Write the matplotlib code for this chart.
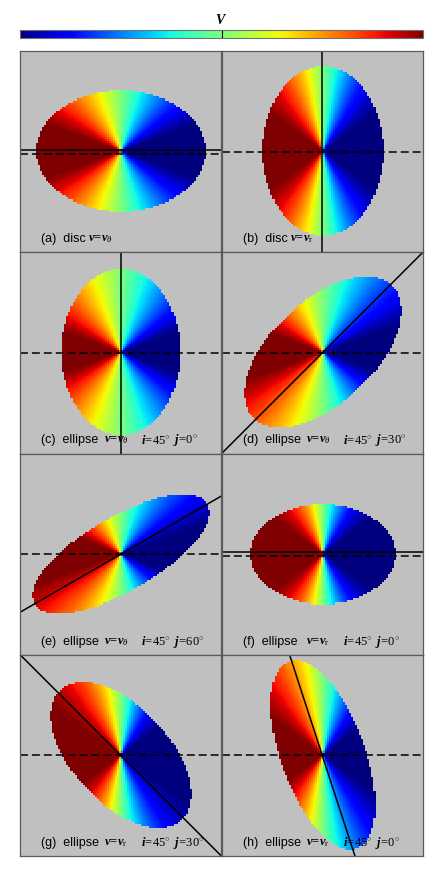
import numpy as np
import matplotlib
matplotlib.use("Agg")
import matplotlib.pyplot as plt

plt.rcParams.update({
    "font.family": ["Liberation Sans", "DejaVu Sans"],
    "mathtext.fontset": "custom",
    "mathtext.rm": "Liberation Serif",
    "mathtext.it": "Liberation Serif:italic",
    "mathtext.bf": "Liberation Serif:bold",
    "mathtext.bfit": "Liberation Serif:italic:bold",
})

W, H = 443, 877

# panel descriptions
panel_ids = ["a", "b", "c", "d", "e", "f", "g", "h"]
shapes = ["disc", "disc", "ellipse", "ellipse", "ellipse", "ellipse", "ellipse", "ellipse"]
flows = ["theta", "r", "theta", "theta", "theta", "r", "r", "r"]
incl_deg = [45, 45, 45, 45, 45, 45, 45, 45]
j_text = [None, None, "0", "30", "60", "0", "30", "0"]

# projected outline on the sky (panel pixels) and drawn major axis
semi_major = [84, 84, 82.5, 95, 99, 72, 88, 99]
semi_minor = [60, 60, 59, 51, 37, 50, 48, 42]
pa_deg = [0, 90, 90, 43, 30, 0, -47, -70]
axis_deg = [0, 90, 90, 45, 30, 0, -45, -72]
axis_shift = [2, 0, 0, 0, 0, 2, 0, 0]

VAMP = 1.12   # velocity amplitude relative to the colour scale (saturates)
NCELL = 100
HALF = 100.5
BG = "#c0c0c0"


def velocity_map(k, flow, incl):
    edges = np.linspace(-HALF, HALF, NCELL + 1)
    c = 0.5 * (edges[1:] + edges[:-1])
    x, y = np.meshgrid(c, c)
    ci = np.cos(np.radians(incl))
    wy = 1 / ci**2 if flow == "theta" else ci**2
    r = np.sqrt(x**2 + wy * y**2)
    v = np.clip(-VAMP * x / np.where(r == 0, 1, r), -1, 1)
    t = np.radians(pa_deg[k])
    u = x * np.cos(t) + y * np.sin(t)
    w = -x * np.sin(t) + y * np.cos(t)
    inside = (u / semi_major[k])**2 + (w / semi_minor[k])**2 <= 1
    return np.ma.masked_where(~inside, v)


fig = plt.figure(figsize=(W / 100, H / 100), dpi=100)

col_left = [20, 221.5]
row_top = [51, 252.25, 453.5, 654.75]
pw, ph = 201.5, 201.25

im = None
for k, pid in enumerate(panel_ids):
    r, cidx = divmod(k, 2)
    ax = fig.add_axes([col_left[cidx] / W, 1 - (row_top[r] + ph) / H, pw / W, ph / H])
    ax.set_facecolor(BG)
    v = velocity_map(k, flows[k], incl_deg[k])
    im = ax.imshow(v, cmap="jet", vmin=-1, vmax=1, origin="lower",
                   extent=[-HALF, HALF, -HALF, HALF], interpolation="nearest")

    t = np.radians(axis_deg[k])
    L = 400
    ax.plot([-L * np.cos(t), L * np.cos(t)],
            [axis_shift[k] - L * np.sin(t), axis_shift[k] + L * np.sin(t)],
            color="black", lw=1.1)
    ax.axhline(-axis_shift[k], color="black", lw=1.1, dashes=(5.2, 2.6))

    ax.set_xlim(-HALF, HALF)
    ax.set_ylim(-HALF, HALF)
    ax.set_xticks([])
    ax.set_yticks([])
    for s in ax.spines.values():
        s.set_color("#5a5a5a")
        s.set_linewidth(0.9)

    ty = -87.5
    ax.text(21 - HALF, ty, f"({pid})  {shapes[k]}", fontsize=9, va="center", ha="left")
    sub = r"\theta" if flows[k] == "theta" else r"\mathrm{r}"
    vx = 68 if shapes[k] == "disc" else 84
    ax.text(vx - HALF, ty, r"$\mathbfit{v}\!\mathbf{=}\!\mathbfit{v}_{%s}$" % sub,
            fontsize=9, va="center", ha="left")
    if j_text[k] is not None:
        ax.text(121 - HALF, ty, r"$\mathbfit{i}\!\mathrm{=}\!\mathrm{%d}^{\circ}$" % incl_deg[k],
                fontsize=9, va="center", ha="left")
        ax.text(153 - HALF, ty, r"$\mathbfit{j}\!\mathrm{=}\!\mathrm{%s}^{\circ}$" % j_text[k],
                fontsize=9, va="center", ha="left")

cax = fig.add_axes([20 / W, 1 - 38 / H, 403 / W, 8 / H])
cb = fig.colorbar(im, cax=cax, orientation="horizontal", ticks=[0])
cb.ax.tick_params(labelbottom=False, bottom=True, top=True, direction="in",
                  length=3, width=0.8)
cb.outline.set_edgecolor("#707070")
cb.outline.set_linewidth(0.8)
fig.text(221 / W, 1 - 20 / H, r"$\mathbfit{V}$", fontsize=10, ha="center", va="center")

fig.savefig("out.png", dpi=100)
